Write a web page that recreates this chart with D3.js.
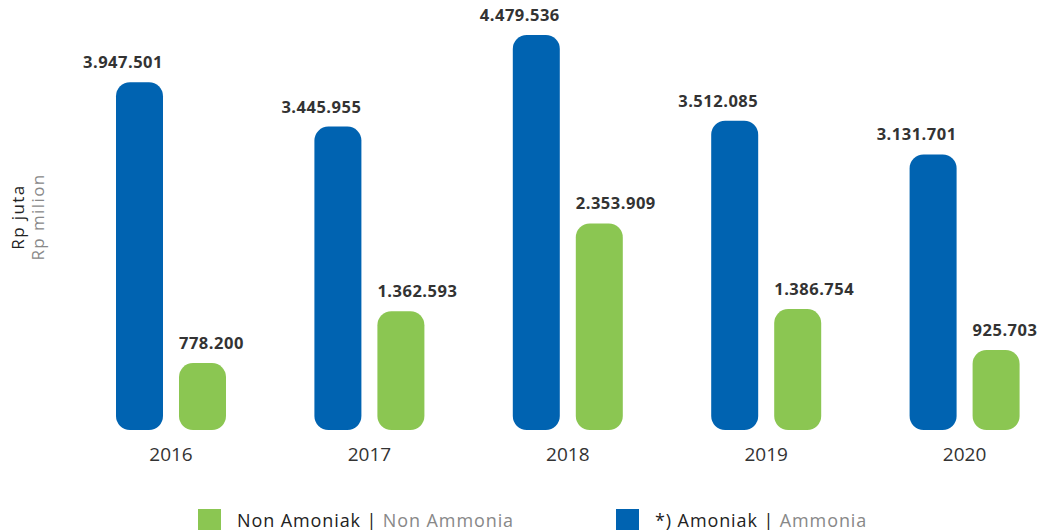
<!DOCTYPE html>
<html>
<head>
<meta charset="utf-8">
<script src="https://cdn.jsdelivr.net/npm/d3@7"></script>
<style>
  html, body { margin: 0; padding: 0; background: #fff; }
  svg { display: block; font-family: "Open Sans", "Noto Sans", sans-serif; }
</style>
</head>
<body>
<svg id="chart" width="1041" height="530"></svg>
<script>
// Annual values, Rp million
const years = ["2016", "2017", "2018", "2019", "2020"];
const ammonia = [3947501, 3445955, 4479536, 3512085, 3131701];
const nonAmmonia = [778200, 1362593, 2353909, 1386754, 925703];
const seriesKeys = ["ammonia", "nonAmmonia"];
const seriesColors = ["#0063B1", "#8BC652"];
const legendItems = [
  { key: "nonAmmonia", main: "Non Amoniak", alt: "Non Ammonia" },
  { key: "ammonia", main: "*) Amoniak", alt: "Ammonia" }
];

const fmt = v => d3.format(",")(v).replace(/,/g, ".");

const svg = d3.select("#chart");

const x0 = d3.scaleBand().domain(years).range([72, 1064]);
const x1 = d3.scaleBand().domain(seriesKeys).range([44, 154]).paddingInner(0.254).paddingOuter(0);
const y = d3.scaleLinear().domain([0, 4479536]).range([432, 35]);
const color = d3.scaleOrdinal().domain(seriesKeys).range(seriesColors);

const rows = years.map((yr, i) => ({ year: yr, ammonia: ammonia[i], nonAmmonia: nonAmmonia[i] }));

const groups = svg.append("g").selectAll("g")
  .data(rows).join("g")
  .attr("transform", d => `translate(${x0(d.year)},0)`);

const bars = groups.selectAll("g.bar")
  .data(d => seriesKeys.map(k => ({ key: k, value: d[k] })))
  .join("g").attr("class", "bar");

bars.append("rect")
  .attr("x", d => x1(d.key))
  .attr("width", x1.bandwidth())
  .attr("y", d => y(d.value))
  .attr("height", d => y(0) - 2 - y(d.value))
  .attr("rx", 14).attr("ry", 14)
  .attr("fill", d => color(d.key));

// Value labels: ammonia right-aligned to its bar, non-ammonia left-aligned
bars.append("text")
  .attr("x", d => d.key === "ammonia" ? x1(d.key) + x1.bandwidth() : x1(d.key))
  .attr("y", d => y(d.value) - 14)
  .attr("text-anchor", d => d.key === "ammonia" ? "end" : "start")
  .attr("font-size", 16.5)
  .attr("font-weight", 700)
  .attr("letter-spacing", 0.5)
  .attr("fill", "#333")
  .text(d => fmt(d.value));

// Year axis labels
svg.append("g").selectAll("text")
  .data(years).join("text")
  .attr("x", d => x0(d) + 99)
  .attr("y", 461)
  .attr("text-anchor", "middle")
  .attr("font-size", 19)
  .attr("fill", "#333")
  .text(d => d);

// Unit label
const unit = svg.append("g").attr("transform", "translate(0,217) rotate(-90)");
unit.append("text").attr("x", 0).attr("y", 24).attr("text-anchor", "middle")
  .attr("font-size", 17).attr("letter-spacing", 1.4).attr("fill", "#222").text("Rp juta");
unit.append("text").attr("x", 0).attr("y", 44).attr("text-anchor", "middle")
  .attr("font-size", 17).attr("letter-spacing", 1.4).attr("fill", "#888").text("Rp milion");

// Legend
const legendX = d3.scalePoint().domain(legendItems.map(d => d.key)).range([198, 616]);
const lg = svg.append("g").selectAll("g")
  .data(legendItems).join("g")
  .attr("transform", d => `translate(${legendX(d.key)},509)`);
lg.append("rect").attr("width", 23).attr("height", 23).attr("fill", d => color(d.key));
const lt = lg.append("text").attr("x", 39).attr("y", 17.5)
  .attr("font-size", 18).attr("letter-spacing", 0.9);
lt.append("tspan").attr("fill", "#222").text(d => d.main + " | ");
lt.append("tspan").attr("fill", "#888").text(d => d.alt);
</script>
</body>
</html>
